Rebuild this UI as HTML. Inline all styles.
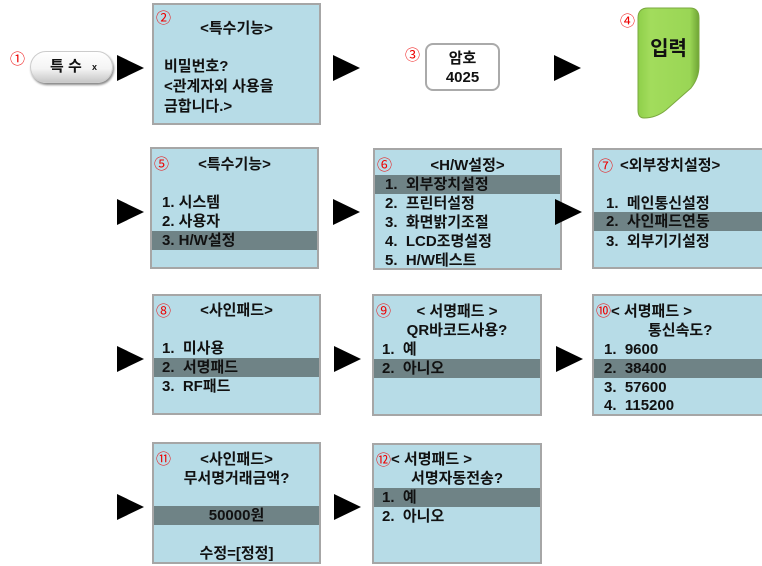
<!DOCTYPE html>
<html><head><meta charset="utf-8"><style>
body{margin:0;width:762px;height:566px;background:#fff;position:relative;overflow:hidden;font-family:"Liberation Sans","Noto Sans CJK KR",sans-serif;font-weight:bold;color:#111}
.box{position:absolute;background:#b7dce7;border:2px solid #a6a6a6;box-sizing:border-box}
.l{position:absolute;left:0;right:0;height:19px;line-height:19px;font-size:15px;white-space:pre}
.hl{background:#6f8386}
.c{text-align:center}
.n{position:absolute;color:#e00;font-size:15px;font-weight:normal;line-height:15px}
.ar{position:absolute;width:0;height:0;border-top:13px solid transparent;border-bottom:13px solid transparent;border-left:27px solid #000}
</style></head><body>

<!-- Row 1 -->
<div class="n" style="left:10px;top:52px">①</div>
<div style="position:absolute;left:30px;top:51px;width:83px;height:32px;border-radius:16px;background:linear-gradient(#ffffff 0%,#f4f4f4 55%,#c8c8c8 100%);box-shadow:1px 2px 2px #888;border:1px solid #ccc;box-sizing:border-box;font-size:15px;line-height:30px">
<span style="position:absolute;left:19px">특 수</span><span style="position:absolute;left:61px;font-size:9px">x</span></div>
<div class="ar" style="left:117px;top:55px"></div>

<div class="box" style="left:152px;top:3px;width:169px;height:122px">
<div class="n" style="left:2px;top:6px">②</div>
<div class="l c" style="top:14px">&lt;특수기능&gt;</div>
<div class="l" style="top:52px;left:10px">비밀번호?</div>
<div class="l" style="top:72px;left:10px">&lt;관계자외 사용을</div>
<div class="l" style="top:92px;left:10px">금합니다.&gt;</div>
</div>
<div class="ar" style="left:333px;top:55px"></div>

<div class="n" style="left:405px;top:48px">③</div>
<div style="position:absolute;left:425px;top:43px;width:75px;height:48px;border:2px solid #aaa;border-radius:8px;box-sizing:border-box;background:#fff;text-align:center;font-size:15px;line-height:19px;padding-top:4px">암호<br>4025</div>
<div class="ar" style="left:554px;top:55px"></div>

<div class="n" style="left:620px;top:14px">④</div>
<svg style="position:absolute;left:636px;top:6px" width="66" height="116">
<defs><linearGradient id="g" x1="0" x2="1"><stop offset="0" stop-color="#8fcf4a"/><stop offset="0.2" stop-color="#a2dc5c"/><stop offset="0.85" stop-color="#9ad655"/><stop offset="1" stop-color="#6fa535"/></linearGradient></defs>
<path d="M2 12 Q2 2 12 2 L54 2 Q63 2 63 12 L63 60 Q63 72 55 82 L30 104 Q20 112 8 112 Q2 112 2 104 Z" fill="url(#g)" stroke="#7aa83f" stroke-width="1"/>
</svg>
<div style="position:absolute;left:638px;top:32px;width:61px;text-align:center;font-size:20px">입력</div>

<!-- Row 2 -->
<div class="ar" style="left:117px;top:199px"></div>
<div class="box" style="left:150px;top:147px;width:169px;height:122px">
<div class="n" style="left:2px;top:8px">⑤</div>
<div class="l c" style="top:6px">&lt;특수기능&gt;</div>
<div class="l" style="top:44px;left:10px">1. 시스템</div>
<div class="l" style="top:63px;left:10px">2. 사용자</div>
<div class="l hl" style="top:82px;padding-left:10px">3. H/W설정</div>
</div>
<div class="ar" style="left:333px;top:199px"></div>
<div class="box" style="left:373px;top:148px;width:189px;height:122px">
<div class="n" style="left:2px;top:8px">⑥</div>
<div class="l c" style="top:6px">&lt;H/W설정&gt;</div>
<div class="l hl" style="top:25px;padding-left:10px">1.  외부장치설정</div>
<div class="l" style="top:44px;left:10px">2.  프린터설정</div>
<div class="l" style="top:63px;left:10px">3.  화면밝기조절</div>
<div class="l" style="top:82px;left:10px">4.  LCD조명설정</div>
<div class="l" style="top:101px;left:10px">5.  H/W테스트</div>
</div>
<div class="ar" style="left:555px;top:199px"></div>
<div class="box" style="left:592px;top:148px;width:172px;height:121px">
<div class="n" style="left:4px;top:9px">⑦</div>
<div class="l" style="top:6px;left:26px">&lt;외부장치설정&gt;</div>
<div class="l" style="top:44px;left:12px">1.  메인통신설정</div>
<div class="l hl" style="top:62px;padding-left:12px">2.  사인패드연동</div>
<div class="l" style="top:82px;left:12px">3.  외부기기설정</div>
</div>

<!-- Row 3 -->
<div class="ar" style="left:117px;top:346px"></div>
<div class="box" style="left:152px;top:294px;width:169px;height:121px">
<div class="n" style="left:2px;top:8px">⑧</div>
<div class="l c" style="top:5px">&lt;사인패드&gt;</div>
<div class="l" style="top:43px;left:8px">1.  미사용</div>
<div class="l hl" style="top:62px;padding-left:8px">2.  서명패드</div>
<div class="l" style="top:81px;left:8px">3.  RF패드</div>
</div>
<div class="ar" style="left:334px;top:346px"></div>
<div class="box" style="left:372px;top:294px;width:170px;height:122px">
<div class="n" style="left:2px;top:8px">⑨</div>
<div class="l c" style="top:6px">&lt; 서명패드 &gt;</div>
<div class="l c" style="top:25px">QR바코드사용?</div>
<div class="l" style="top:44px;left:8px">1.  예</div>
<div class="l hl" style="top:63px;padding-left:8px">2.  아니오</div>
</div>
<div class="ar" style="left:556px;top:346px"></div>
<div class="box" style="left:592px;top:294px;width:172px;height:122px">
<div class="n" style="left:2px;top:8px">⑩</div>
<div class="l" style="top:6px;left:17px">&lt; 서명패드 &gt;</div>
<div class="l" style="top:25px;left:54px">통신속도?</div>
<div class="l" style="top:44px;left:10px">1.  9600</div>
<div class="l hl" style="top:63px;padding-left:10px">2.  38400</div>
<div class="l" style="top:82px;left:10px">3.  57600</div>
<div class="l" style="top:100px;left:10px">4.  115200</div>
</div>

<!-- Row 4 -->
<div class="ar" style="left:117px;top:494px"></div>
<div class="box" style="left:152px;top:442px;width:169px;height:122px">
<div class="n" style="left:2px;top:8px">⑪</div>
<div class="l c" style="top:6px">&lt;사인패드&gt;</div>
<div class="l c" style="top:25px">무서명거래금액?</div>
<div class="l hl c" style="top:62px">50000원</div>
<div class="l c" style="top:100px">수정=[정정]</div>
</div>
<div class="ar" style="left:334px;top:494px"></div>
<div class="box" style="left:372px;top:443px;width:170px;height:121px">
<div class="n" style="left:2px;top:8px">⑫</div>
<div class="l" style="top:5px;left:17px">&lt; 서명패드 &gt;</div>
<div class="l c" style="top:24px">서명자동전송?</div>
<div class="l hl" style="top:43px;padding-left:8px">1.  예</div>
<div class="l" style="top:62px;left:8px">2.  아니오</div>
</div>

</body></html>
